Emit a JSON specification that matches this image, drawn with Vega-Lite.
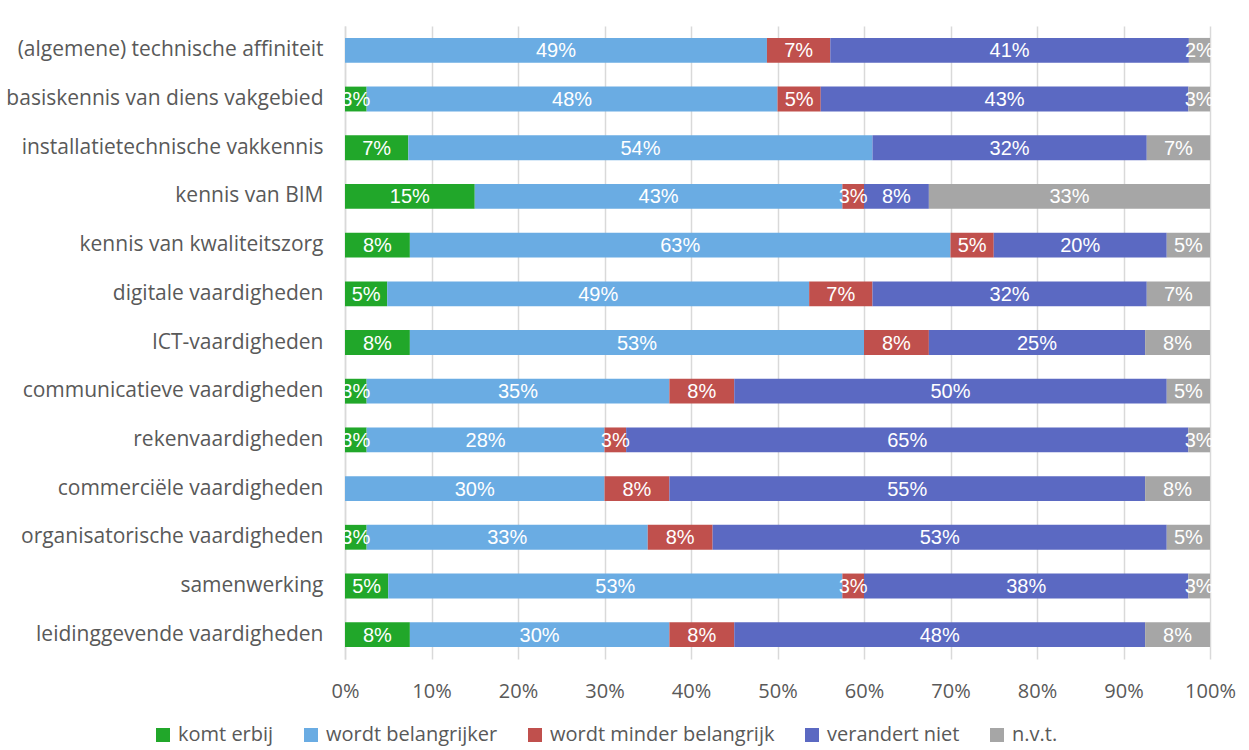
{
  "$schema": "https://vega.github.io/schema/vega-lite/v6.json",
  "width": 865,
  "height": 633,
  "autosize": {"type": "none"},
  "padding": {"left": 345, "top": 26, "right": 39, "bottom": 91},
  "background": "white",
  "config": {
    "view": {"stroke": null},
    "font": "Open Sans"
  },
  "data": {
    "values": [
      {"cat": "(algemene) technische affiniteit", "serie": "wordt belangrijker", "o": 2, "pct": 48.78},
      {"cat": "(algemene) technische affiniteit", "serie": "wordt minder belangrijk", "o": 3, "pct": 7.32},
      {"cat": "(algemene) technische affiniteit", "serie": "verandert niet", "o": 4, "pct": 41.46},
      {"cat": "(algemene) technische affiniteit", "serie": "n.v.t.", "o": 5, "pct": 2.44},
      {"cat": "basiskennis van diens vakgebied", "serie": "komt erbij", "o": 1, "pct": 2.5},
      {"cat": "basiskennis van diens vakgebied", "serie": "wordt belangrijker", "o": 2, "pct": 47.5},
      {"cat": "basiskennis van diens vakgebied", "serie": "wordt minder belangrijk", "o": 3, "pct": 5},
      {"cat": "basiskennis van diens vakgebied", "serie": "verandert niet", "o": 4, "pct": 42.5},
      {"cat": "basiskennis van diens vakgebied", "serie": "n.v.t.", "o": 5, "pct": 2.5},
      {"cat": "installatietechnische vakkennis", "serie": "komt erbij", "o": 1, "pct": 7.32},
      {"cat": "installatietechnische vakkennis", "serie": "wordt belangrijker", "o": 2, "pct": 53.66},
      {"cat": "installatietechnische vakkennis", "serie": "verandert niet", "o": 4, "pct": 31.71},
      {"cat": "installatietechnische vakkennis", "serie": "n.v.t.", "o": 5, "pct": 7.32},
      {"cat": "kennis van BIM", "serie": "komt erbij", "o": 1, "pct": 15},
      {"cat": "kennis van BIM", "serie": "wordt belangrijker", "o": 2, "pct": 42.5},
      {"cat": "kennis van BIM", "serie": "wordt minder belangrijk", "o": 3, "pct": 2.5},
      {"cat": "kennis van BIM", "serie": "verandert niet", "o": 4, "pct": 7.5},
      {"cat": "kennis van BIM", "serie": "n.v.t.", "o": 5, "pct": 32.5},
      {"cat": "kennis van kwaliteitszorg", "serie": "komt erbij", "o": 1, "pct": 7.5},
      {"cat": "kennis van kwaliteitszorg", "serie": "wordt belangrijker", "o": 2, "pct": 62.5},
      {"cat": "kennis van kwaliteitszorg", "serie": "wordt minder belangrijk", "o": 3, "pct": 5},
      {"cat": "kennis van kwaliteitszorg", "serie": "verandert niet", "o": 4, "pct": 20},
      {"cat": "kennis van kwaliteitszorg", "serie": "n.v.t.", "o": 5, "pct": 5},
      {"cat": "digitale vaardigheden", "serie": "komt erbij", "o": 1, "pct": 4.88},
      {"cat": "digitale vaardigheden", "serie": "wordt belangrijker", "o": 2, "pct": 48.78},
      {"cat": "digitale vaardigheden", "serie": "wordt minder belangrijk", "o": 3, "pct": 7.32},
      {"cat": "digitale vaardigheden", "serie": "verandert niet", "o": 4, "pct": 31.71},
      {"cat": "digitale vaardigheden", "serie": "n.v.t.", "o": 5, "pct": 7.32},
      {"cat": "ICT-vaardigheden", "serie": "komt erbij", "o": 1, "pct": 7.5},
      {"cat": "ICT-vaardigheden", "serie": "wordt belangrijker", "o": 2, "pct": 52.5},
      {"cat": "ICT-vaardigheden", "serie": "wordt minder belangrijk", "o": 3, "pct": 7.5},
      {"cat": "ICT-vaardigheden", "serie": "verandert niet", "o": 4, "pct": 25},
      {"cat": "ICT-vaardigheden", "serie": "n.v.t.", "o": 5, "pct": 7.5},
      {"cat": "communicatieve vaardigheden", "serie": "komt erbij", "o": 1, "pct": 2.5},
      {"cat": "communicatieve vaardigheden", "serie": "wordt belangrijker", "o": 2, "pct": 35},
      {"cat": "communicatieve vaardigheden", "serie": "wordt minder belangrijk", "o": 3, "pct": 7.5},
      {"cat": "communicatieve vaardigheden", "serie": "verandert niet", "o": 4, "pct": 50},
      {"cat": "communicatieve vaardigheden", "serie": "n.v.t.", "o": 5, "pct": 5},
      {"cat": "rekenvaardigheden", "serie": "komt erbij", "o": 1, "pct": 2.5},
      {"cat": "rekenvaardigheden", "serie": "wordt belangrijker", "o": 2, "pct": 27.5},
      {"cat": "rekenvaardigheden", "serie": "wordt minder belangrijk", "o": 3, "pct": 2.5},
      {"cat": "rekenvaardigheden", "serie": "verandert niet", "o": 4, "pct": 65},
      {"cat": "rekenvaardigheden", "serie": "n.v.t.", "o": 5, "pct": 2.5},
      {"cat": "commerciële vaardigheden", "serie": "wordt belangrijker", "o": 2, "pct": 30},
      {"cat": "commerciële vaardigheden", "serie": "wordt minder belangrijk", "o": 3, "pct": 7.5},
      {"cat": "commerciële vaardigheden", "serie": "verandert niet", "o": 4, "pct": 55},
      {"cat": "commerciële vaardigheden", "serie": "n.v.t.", "o": 5, "pct": 7.5},
      {"cat": "organisatorische vaardigheden", "serie": "komt erbij", "o": 1, "pct": 2.5},
      {"cat": "organisatorische vaardigheden", "serie": "wordt belangrijker", "o": 2, "pct": 32.5},
      {"cat": "organisatorische vaardigheden", "serie": "wordt minder belangrijk", "o": 3, "pct": 7.5},
      {"cat": "organisatorische vaardigheden", "serie": "verandert niet", "o": 4, "pct": 52.5},
      {"cat": "organisatorische vaardigheden", "serie": "n.v.t.", "o": 5, "pct": 5},
      {"cat": "samenwerking", "serie": "komt erbij", "o": 1, "pct": 5},
      {"cat": "samenwerking", "serie": "wordt belangrijker", "o": 2, "pct": 52.5},
      {"cat": "samenwerking", "serie": "wordt minder belangrijk", "o": 3, "pct": 2.5},
      {"cat": "samenwerking", "serie": "verandert niet", "o": 4, "pct": 37.5},
      {"cat": "samenwerking", "serie": "n.v.t.", "o": 5, "pct": 2.5},
      {"cat": "leidinggevende vaardigheden", "serie": "komt erbij", "o": 1, "pct": 7.5},
      {"cat": "leidinggevende vaardigheden", "serie": "wordt belangrijker", "o": 2, "pct": 30},
      {"cat": "leidinggevende vaardigheden", "serie": "wordt minder belangrijk", "o": 3, "pct": 7.5},
      {"cat": "leidinggevende vaardigheden", "serie": "verandert niet", "o": 4, "pct": 47.5},
      {"cat": "leidinggevende vaardigheden", "serie": "n.v.t.", "o": 5, "pct": 7.5}
    ]
  },
  "encoding": {
    "y": {
      "field": "cat",
      "type": "nominal",
      "sort": null,
      "scale": {"paddingInner": 0.49, "paddingOuter": 0.245},
      "axis": {
        "title": null,
        "ticks": false,
        "domain": true,
        "domainColor": "#d9d9d9",
        "domainWidth": 1.5,
        "labelFont": "Open Sans",
        "labelFontSize": 21,
        "labelColor": "#595959",
        "labelPadding": 22,
        "labelLimit": 400
      }
    },
    "order": {"field": "o", "type": "quantitative"}
  },
  "layer": [
    {
      "mark": {"type": "bar"},
      "encoding": {
        "x": {
          "field": "pct",
          "type": "quantitative",
          "stack": "zero",
          "scale": {"domain": [0, 100], "nice": false},
          "axis": {
            "title": null,
            "values": [0, 10, 20, 30, 40, 50, 60, 70, 80, 90, 100],
            "labelExpr": "datum.value + '%'",
            "labelFlush": false,
            "domain": false,
            "ticks": false,
            "grid": true,
            "gridColor": "#d9d9d9",
            "gridWidth": 1.5,
            "labelFont": "Open Sans",
            "labelFontSize": 20,
            "labelColor": "#595959",
            "labelPadding": 22
          }
        },
        "color": {
          "field": "serie",
          "type": "nominal",
          "scale": {
            "domain": ["komt erbij", "wordt belangrijker", "wordt minder belangrijk", "verandert niet", "n.v.t."],
            "range": ["#21a72a", "#6aace3", "#c0504d", "#5b69c2", "#a6a6a6"]
          },
          "legend": {
            "title": null,
            "orient": "none",
            "direction": "horizontal",
            "legendX": -192,
            "legendY": 699,
            "symbolType": "square",
            "symbolSize": 196,
            "symbolStrokeWidth": 0,
            "symbolOpacity": 1,
            "labelFont": "Open Sans",
            "labelFontSize": 20,
            "labelColor": "#595959",
            "labelLimit": 400,
            "columnPadding": 27,
            "labelOffset": 5
          }
        }
      }
    },
    {
      "mark": {
        "type": "text",
        "color": "white",
        "font": "Liberation Sans",
        "fontSize": 20,
        "baseline": "middle",
        "align": "center",
        "dy": 1,
        "text": {"expr": "round(datum.pct) + '%'"}
      },
      "encoding": {
        "x": {
          "field": "pct",
          "type": "quantitative",
          "stack": "zero",
          "bandPosition": 0.5
        },
        "detail": {"field": "serie", "type": "nominal"}
      }
    }
  ]
}
